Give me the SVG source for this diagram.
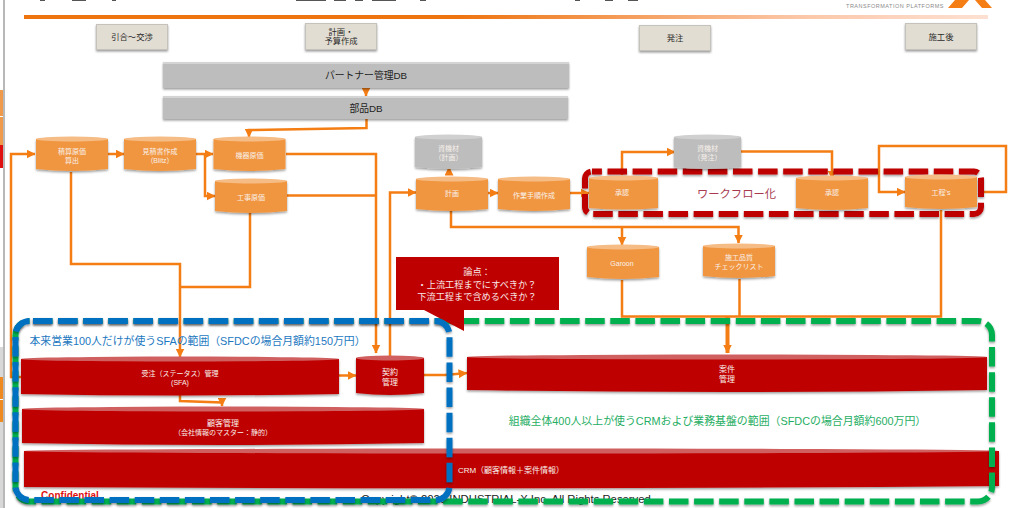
<svg xmlns="http://www.w3.org/2000/svg" width="1009" height="508" viewBox="0 0 1009 508">
<style>
text{font-family:"Liberation Sans","Noto Sans CJK JP",sans-serif;text-anchor:middle}
.w{fill:#f8f0ea;font-size:7px}
.w8{fill:#f8f0ea;font-size:8px}
.k{fill:#2a2a2a;font-size:8.300px}
.d{fill:#222;font-size:9.800px}
.ph{fill:#e2ddd2;stroke:#c4c2ba;stroke-width:1;filter:url(#s)}
.db{fill:#bdbdbd;filter:url(#s)}
.o{fill:#f19641;filter:url(#s)}
.ot{fill:#f6bc85}
.g{fill:#bdbdbd;filter:url(#s)}
.gt{fill:#d0d0d0}
.r{fill:#bf0000;filter:url(#s)}
.rt{fill:#d06060}
.c{fill:none;stroke:#f47d14;stroke-width:2.500}
.z{fill:none;stroke-width:6;stroke-dasharray:19.500 5.600;filter:url(#s)}
</style>
<defs>
<filter id="s" x="-10%" y="-20%" width="120%" height="150%"><feDropShadow dx="0" dy="1.5" stdDeviation="1.2" flood-color="#000" flood-opacity=".4"/></filter>
<linearGradient id="bar"><stop offset="0" stop-color="#ee7410"/><stop offset=".45" stop-color="#ee7410"/><stop offset=".8" stop-color="#fbc6a6"/><stop offset="1" stop-color="#fde0d2"/></linearGradient>
<marker id="a" markerWidth="9" markerHeight="9" refX="8.500" refY="4.500" orient="auto" markerUnits="userSpaceOnUse"><path d="M0 0L9 4.500L0 9Z" fill="#f47d14"/></marker>
<path id="cyl" d="M0 3V33Q36 37 72 33V3Z"/>
<ellipse id="cyt" cx="36" cy="3" rx="36" ry="2.500"/>
</defs>
<rect width="1009" height="508" fill="#fff"/>
<g id="page-edge">
<rect x="3" y="0" width="2" height="508" fill="#b8b8b8"/>
<rect x="0" y="90" width="3" height="26" fill="#ee9a4a"/>
<rect x="0" y="117" width="3" height="28" fill="#ee9a4a"/>
<rect x="0" y="145" width="3" height="23" fill="#e01010"/>
<rect x="0" y="347" width="3" height="30" fill="#d8d8d8"/>
<rect x="0" y="377" width="3" height="22" fill="#ee8a20"/>
<rect x="0" y="400" width="3" height="22" fill="#ee8a20"/>
<rect x="0" y="422" width="3" height="86" fill="#d8d8d8"/>
</g>
<g id="header">
<rect x="24" y="15" width="964" height="4" fill="url(#bar)"/>
<g fill="#555"><rect x="40" y="0" width="5" height="1"/><rect x="72" y="0" width="14" height="1"/><rect x="112" y="0" width="4" height="1"/><rect x="296" y="0" width="30" height="1"/><rect x="334" y="0" width="12" height="1"/><rect x="355" y="0" width="8" height="1"/><rect x="372" y="0" width="24" height="1"/><rect x="420" y="0" width="6" height="1"/><rect x="575" y="0" width="5" height="1"/><rect x="605" y="0" width="8" height="1"/><rect x="628" y="0" width="10" height="1"/></g>
<text x="895" y="7.500" style="font-size:5.500px;letter-spacing:.5px" fill="#8a8a8a">TRANSFORMATION PLATFORMS</text>
<path d="M955 0H969L962 8H948ZM975 0H985L992 8H982Z" fill="#f47d14"/>
</g>
<g id="connectors">
<path class="c" d="M21 377H11V154H35" marker-end="url(#a)"/>
<path class="c" d="M107 154H124" marker-end="url(#a)"/>
<path class="c" d="M196 154H213" marker-end="url(#a)"/>
<path class="c" d="M205 154V196H215" marker-end="url(#a)"/>
<path class="c" d="M366.500 119V128L249 130V137" marker-end="url(#a)"/>
<path class="c" d="M366 88V96" marker-start="url(#a)" marker-end="url(#a)"/>
<path class="c" d="M286 154H376V353" marker-end="url(#a)"/>
<path class="c" d="M287 195.500H376"/>
<path class="c" d="M71 172V264H180V357" marker-end="url(#a)"/>
<path class="c" d="M250 213V287H180"/>
<path class="c" d="M180 395V401L222 402.500V406" marker-end="url(#a)"/>
<path class="c" d="M339 375.500H356" marker-end="url(#a)"/>
<path class="c" d="M424 375H445L467 373" marker-end="url(#a)"/>
<path class="c" d="M390 356V192.500H416" marker-end="url(#a)"/>
<path class="c" d="M449 175V167" marker-end="url(#a)"/>
<path class="c" d="M488 193H498" marker-end="url(#a)"/>
<path class="c" d="M570 193H589" marker-end="url(#a)"/>
<path class="c" d="M451 211V227H738.500V243" marker-end="url(#a)"/>
<path class="c" d="M622 227V245" marker-end="url(#a)"/>
<path class="c" d="M622 175V152H675" marker-end="url(#a)"/>
<path class="c" d="M741 151.500H832V179" marker-end="url(#a)"/>
<path class="c" d="M980 192H1006V146H879V192H905" marker-end="url(#a)"/>
<path class="c" d="M941 210V316.500H622V280"/>
<path class="c" d="M739.500 279V316"/>
<path class="c" d="M727.500 316V353" style="stroke-width:4" marker-end="url(#a)"/>
</g>
<g id="workflow-zone">
<rect class="z" x="585" y="171.500" width="396" height="42.500" rx="7" stroke="#bf0000" stroke-dashoffset="9.600"/>
<text x="736.500" y="198" style="font-size:11.300px" fill="#a83a50">ワークフロー化</text>
</g>
<g id="phase-inquiry"><rect class="ph" x="96.500" y="24.500" width="71" height="25"/><text class="k" x="132" y="40">引合～交渉</text></g>
<g id="phase-plan"><rect class="ph" x="305.500" y="23.500" width="71" height="26"/><text class="k" x="341" y="34.500">計画・</text><text class="k" x="341" y="44">予算作成</text></g>
<g id="phase-order"><rect class="ph" x="639.500" y="25.500" width="71" height="25"/><text class="k" x="675" y="41">発注</text></g>
<g id="phase-after"><rect class="ph" x="905.500" y="23.500" width="71" height="26"/><text class="k" x="941" y="40">施工後</text></g>
<g id="db-partner"><rect class="db" x="163" y="62" width="406" height="26"/><rect x="163" y="62" width="406" height="2" fill="#d4d4d4"/><text class="d" x="366" y="79">パートナー管理DB</text></g>
<g id="db-parts"><rect class="db" x="163" y="96" width="405" height="23"/><rect x="163" y="96" width="405" height="2" fill="#d4d4d4"/><text class="d" x="366" y="112">部品DB</text></g>
<g id="n-estimate-cost" transform="translate(36 136)"><use href="#cyl" class="o"/><use href="#cyt" class="ot"/><text class="w" x="36" y="18">積算原価</text><text class="w" x="36" y="27">算出</text></g>
<g id="n-quote" transform="translate(124 136)"><use href="#cyl" class="o"/><use href="#cyt" class="ot"/><text class="w" x="36" y="18">見積書作成</text><text class="w" x="36" y="27">（Blitz）</text></g>
<g id="n-equipment" transform="translate(213.500 136)"><use href="#cyl" class="o"/><use href="#cyt" class="ot"/><text class="w" x="36" y="22">機器原価</text></g>
<g id="n-work-cost" transform="translate(215 178)"><use href="#cyl" class="o"/><use href="#cyt" class="ot"/><text class="w" x="36" y="22">工事原価</text></g>
<g id="n-material-plan" transform="translate(415 134)"><path class="g" d="M0 3V33Q33 37 67 33V3Z"/><ellipse class="gt" cx="33.500" cy="3" rx="33.500" ry="2.500"/><text class="w" x="33.500" y="17">資機材</text><text class="w" x="33.500" y="26">（計画）</text></g>
<g id="n-plan" transform="translate(416 176)"><use href="#cyl" class="o"/><use href="#cyt" class="ot"/><text class="w" x="36" y="20">計画</text></g>
<g id="n-procedure" transform="translate(498 176)"><use href="#cyl" class="o"/><use href="#cyt" class="ot"/><text class="w" x="36" y="22">作業手順作成</text></g>
<g id="n-material-order" transform="translate(674 134)"><path class="g" d="M0 3V33Q33 37 67 33V3Z"/><ellipse class="gt" cx="33.500" cy="3" rx="33.500" ry="2.500"/><text class="w" x="33.500" y="17">資機材</text><text class="w" x="33.500" y="26">（発注）</text></g>
<g id="n-approve-1" transform="translate(589 175)"><path class="o" d="M0 3V33Q35 36 69 33V3Z"/><ellipse class="ot" cx="34.500" cy="3" rx="34.500" ry="2.500"/><text class="w" x="33" y="20">承認</text></g>
<g id="n-approve-2" transform="translate(796 175)"><use href="#cyl" class="o"/><use href="#cyt" class="ot"/><text class="w" x="36" y="20">承認</text></g>
<g id="n-koteis" transform="translate(905 174)"><use href="#cyl" class="o"/><use href="#cyt" class="ot"/><text class="w" x="36" y="21">工程's</text></g>
<g id="n-garoon" transform="translate(587 244)"><use href="#cyl" class="o"/><use href="#cyt" class="ot"/><text class="w" x="35" y="22">Garoon</text></g>
<g id="n-quality" transform="translate(703 243)"><use href="#cyl" class="o"/><use href="#cyt" class="ot"/><text class="w" x="36" y="17">施工品質</text><text class="w" x="36" y="26">チェックリスト</text></g>
<g id="n-order-mgmt"><path class="r" d="M21 359V394Q180 397 339 394V359Z"/><ellipse class="rt" cx="180" cy="359" rx="159" ry="2.500"/><text class="w" x="180" y="376">受注（ステータス）管理</text><text class="w" x="180" y="385">(SFA)</text></g>
<g id="n-contract"><path class="r" d="M356 358V393Q390 397 424 393V358Z"/><ellipse class="rt" cx="390" cy="358" rx="34" ry="2.500"/><text class="w8" x="390" y="375">契約</text><text class="w8" x="390" y="385">管理</text></g>
<g id="n-customer"><path class="r" d="M22 409V443Q223 447 424 443V409Z"/><ellipse class="rt" cx="223" cy="409" rx="201" ry="2.500"/><text class="w8" x="223" y="426">顧客管理</text><text class="w" x="223" y="435">（会社情報のマスター：静的）</text></g>
<g id="n-case"><path class="r" d="M467 357V390Q727 394 987 390V357Z"/><ellipse class="rt" cx="727" cy="357" rx="260" ry="2.500"/><text class="w8" x="727" y="372">案件</text><text class="w8" x="727" y="382">管理</text></g>
<g id="n-crm"><path class="r" d="M24 451V487Q511 490 999 486V451Z"/><ellipse class="rt" cx="511" cy="451" rx="487" ry="2.500"/><text class="w8" x="511" y="473">CRM（顧客情報＋案件情報）</text></g>
<g id="footer">
<text x="70" y="499" style="font-size:10px;font-weight:700" fill="#e01010">Confidential</text>
<text x="506" y="503" style="font-size:11.300px" fill="#222">Copyright© 2020 INDUSTRIAL-X Inc. All Rights Reserved</text>
</g>
<g id="crm-zone">
<rect class="z" x="15.500" y="321" width="976.500" height="180.500" rx="14" stroke="#00b050" stroke-dashoffset="21.600"/>
<text x="717.500" y="425" style="font-size:10.900px" fill="#1fae63">組織全体400人以上が使うCRMおよび業務基盤の範囲（SFDCの場合月額約600万円）</text>
</g>
<g id="callout">
<path d="M396 257H559V310H464V331L424 310H396Z" fill="#bf0000"/>
<text x="477" y="275" style="font-size:9.200px" fill="#f8e8e8">論点：</text>
<text x="477" y="288" style="font-size:9.200px" fill="#f8e8e8">・上流工程までにすべきか？</text>
<text x="477" y="300" style="font-size:9.200px" fill="#f8e8e8">下流工程まで含めるべきか？</text>
</g>
<g id="sfa-zone">
<rect class="z" x="15.500" y="321" width="434" height="179" rx="14" stroke="#0070c0" stroke-dashoffset="21.600"/>
<text x="197.500" y="345" style="font-size:10.860px" fill="#1b78c0">本来営業100人だけが使うSFAの範囲（SFDCの場合月額約150万円）</text>
</g>
</svg>
